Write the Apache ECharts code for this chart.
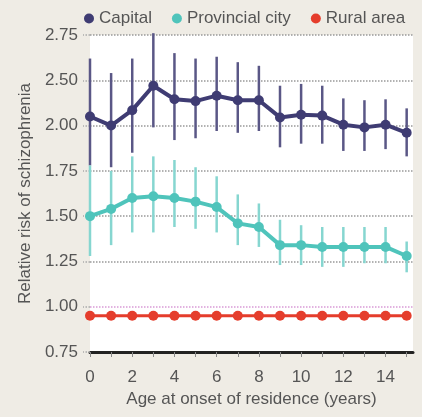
<!DOCTYPE html>
<html>
<head>
<meta charset="utf-8">
<script src="https://cdn.jsdelivr.net/npm/echarts@6/dist/echarts.min.js"></script>
<style>
  html, body { margin: 0; padding: 0; background: #efece5; }
  #chart { width: 422px; height: 417px; }
</style>
</head>
<body>
<div id="chart"></div>
<script>
  // 横轴：开始居住年龄（年）
  var ages = [0, 1, 2, 3, 4, 5, 6, 7, 8, 9, 10, 11, 12, 13, 14, 15];

  // 首都
  var capital = [2.10, 2.00, 2.17, 2.44, 2.29, 2.27, 2.33, 2.28, 2.28, 2.09, 2.12, 2.11, 2.01, 1.99, 2.01, 1.96];
  var capitalLow = [1.78, 1.77, 1.85, 1.99, 1.92, 1.93, 1.97, 1.96, 1.97, 1.88, 1.90, 1.90, 1.86, 1.86, 1.87, 1.83];
  var capitalHigh = [2.62, 2.54, 2.62, 2.76, 2.65, 2.62, 2.63, 2.60, 2.58, 2.44, 2.46, 2.44, 2.30, 2.28, 2.29, 2.19];

  // 省会城市
  var provincial = [1.50, 1.54, 1.60, 1.61, 1.60, 1.58, 1.55, 1.46, 1.44, 1.34, 1.34, 1.33, 1.33, 1.33, 1.33, 1.28];
  var provincialLow = [1.28, 1.34, 1.41, 1.41, 1.44, 1.43, 1.41, 1.34, 1.33, 1.23, 1.23, 1.22, 1.22, 1.24, 1.24, 1.19];
  var provincialHigh = [1.78, 1.75, 1.83, 1.83, 1.81, 1.77, 1.72, 1.62, 1.57, 1.48, 1.45, 1.44, 1.44, 1.44, 1.44, 1.36];

  // 农村
  var rural = [0.95, 0.95, 0.95, 0.95, 0.95, 0.95, 0.95, 0.95, 0.95, 0.95, 0.95, 0.95, 0.95, 0.95, 0.95, 0.95];

  var yTicks = ['0.75', '1.00', '1.25', '1.50', '1.75', '2.00', '2.50', '2.75'];

  // 原图纵轴在 2.00 和 2.50 之间压缩（少了 2.25），这里把数值换算到等距刻度位置
  function pos(v) {
    if (v <= 2) return v;
    if (v <= 2.5) return 2 + (v - 2) / 2;
    return v - 0.25;
  }

  function linePoints(vals) {
    return ages.map(function (a, i) { return [a, pos(vals[i])]; });
  }
  function barPoints(lo, hi) {
    return ages.map(function (a, i) { return [a, pos(lo[i]), pos(hi[i])]; });
  }

  function errorBar(color, width) {
    return function (params, api) {
      var x = api.value(0);
      var p1 = api.coord([x, api.value(1)]);
      var p2 = api.coord([x, api.value(2)]);
      return {
        type: 'line',
        shape: { x1: p1[0], y1: p1[1], x2: p2[0], y2: p2[1] },
        style: { stroke: color, lineWidth: width }
      };
    };
  }

  var fontFamily = '"Liberation Sans", Arial, sans-serif';
  var textColor = '#555';

  var myChart = echarts.init(document.getElementById('chart'));
  var option = {
    backgroundColor: '#efece5',
    animation: false,
    textStyle: { fontFamily: fontFamily },
    legend: {
      top: 5,
      left: 79,
      icon: 'circle',
      itemWidth: 10,
      itemHeight: 10,
      itemGap: 20,
      textStyle: { color: textColor, fontSize: 17, fontFamily: fontFamily },
      data: ['Capital', 'Provincial city', 'Rural area']
    },
    grid: {
      left: 90,
      right: 9,
      top: 35,
      bottom: 65,
      show: true,
      backgroundColor: '#ffffff',
      borderWidth: 0
    },
    xAxis: {
      type: 'value',
      min: 0,
      max: 15.3,
      name: 'Age at onset of residence (years)',
      nameLocation: 'middle',
      nameGap: 38,
      nameTextStyle: { color: textColor, fontSize: 17 },
      axisLine: { show: true, lineStyle: { color: '#222', width: 3 } },
      axisTick: {
        show: true,
        length: 5,
        customValues: ages,
        lineStyle: { color: '#888', width: 1 }
      },
      axisLabel: {
        color: textColor,
        fontSize: 17,
        margin: 17,
        customValues: [0, 2, 4, 6, 8, 10, 12, 14]
      },
      splitLine: { show: false }
    },
    yAxis: {
      type: 'value',
      min: 0.75,
      max: 2.5,
      interval: 0.25,
      name: 'Relative risk of schizophrenia',
      nameLocation: 'middle',
      nameGap: 56,
      nameTextStyle: { color: textColor, fontSize: 17 },
      axisLine: { show: false },
      axisTick: {
        show: true,
        length: 7,
        lineStyle: { color: '#aaa', type: 'dotted', width: 1.5 }
      },
      axisLabel: {
        color: textColor,
        fontSize: 17,
        margin: 12,
        formatter: function (v) {
          var i = Math.round((v - 0.75) / 0.25);
          return yTicks[i];
        }
      },
      splitLine: {
        show: true,
        lineStyle: {
          type: 'dotted',
          width: 1.5,
          color: ['#999', '#d99ad6', '#999', '#999', '#999', '#999', '#999', '#999']
        }
      }
    },
    series: [
      {
        name: 'CapitalBars',
        type: 'custom',
        renderItem: errorBar('#5a5786', 2.5),
        encode: { x: 0, y: [1, 2] },
        data: barPoints(capitalLow, capitalHigh),
        z: 1,
        silent: true
      },
      {
        name: 'ProvincialBars',
        type: 'custom',
        renderItem: errorBar('#86d6d0', 2.5),
        encode: { x: 0, y: [1, 2] },
        data: barPoints(provincialLow, provincialHigh),
        z: 1,
        silent: true
      },
      {
        name: 'Capital',
        type: 'line',
        data: linePoints(capital),
        symbol: 'circle',
        symbolSize: 10,
        itemStyle: { color: '#3f3c73' },
        lineStyle: { color: '#3f3c73', width: 4 },
        z: 3
      },
      {
        name: 'Provincial city',
        type: 'line',
        data: linePoints(provincial),
        symbol: 'circle',
        symbolSize: 10,
        itemStyle: { color: '#4fc4bb' },
        lineStyle: { color: '#4fc4bb', width: 4 },
        z: 3
      },
      {
        name: 'Rural area',
        type: 'line',
        data: linePoints(rural),
        symbol: 'circle',
        symbolSize: 10,
        itemStyle: { color: '#e53d2c' },
        lineStyle: { color: '#e53d2c', width: 3 },
        z: 3
      }
    ]
  };

  option && myChart.setOption(option);
</script>
</body>
</html>
